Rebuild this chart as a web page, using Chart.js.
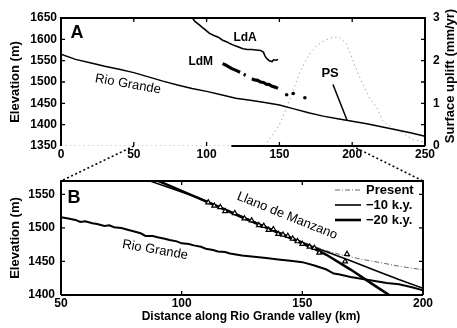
<!DOCTYPE html>
<html><head><meta charset="utf-8">
<script src="https://cdn.jsdelivr.net/npm/chart.js@4.4.1/dist/chart.umd.min.js"></script>
<style>
html,body{margin:0;padding:0;background:#fff;}
#wrap{position:relative;width:457px;height:328px;}
#wrap canvas{position:absolute;left:0;top:0;}
</style></head><body>
<div id="wrap"><canvas id="cA" width="457" height="328"></canvas><canvas id="cB" width="457" height="328"></canvas></div>
<script>
const FONT = "'Liberation Sans', Arial, Helvetica, sans-serif";

// ---------- Panel A data ----------
const riverAKm   = [0,10,20,30,40,50,60,70,80,90,100,110,120,130,140,150,160,170,180,190,200,210,220,230,240,250];
const riverAElev = [1565,1553,1545,1537,1530,1522,1512,1502,1493,1485,1478,1470,1462,1457,1452,1446,1437,1428,1420,1414,1408,1402,1395,1388,1381,1373];
const ldaKm   = [90,92,95,97,100,102,105,108,111,114,116,118,121,125,128,131,134,137,139,140,141,143,145,146,148,149];
const ldaElev = [1651,1642,1634,1628,1620,1614,1609,1605,1598,1594,1590,1587,1583,1578,1576,1576,1575,1574,1570,1562,1556,1550,1548,1552,1551,1553];
const ldmAKm   = [111,113,115,117,119,121,123,124,125.5,126.8,128,131,133,135,137,139,141,143,145,147,149];
const ldmAElev = [1543,1540,1536,1532,1529,1526,1523,null,1518,1516,null,1507,1505,1504,1500,1499,1495,1494,1490,1488,1485];
const ldmDotsKm   = [155,159.5,167.5];
const ldmDotsElev = [1470,1473,1463];
const psKm     = [0,20,40,60,80,100,120,140,145,150,155,160,164,168,172,176,181,186,191,196,200,204,208,212,217,221,228,235,241,246,250];
const psUplift = [0,0,0,0,0,0,0,0.02,0.25,0.5,0.9,1.35,1.73,2.0,2.22,2.36,2.47,2.54,2.56,2.4,2.05,1.7,1.4,1.12,0.9,0.58,0.42,0.3,0.16,0.12,0.08];
const psPointerKm   = [186.8,196.4];
const psPointerElev = [1494,1411];
const xTicksA = [0,50,100,150,200,250];
const yTicksA = [1350,1400,1450,1500,1550,1600,1650];
const upliftTicks = [0,1,2,3];
const upliftMinorTicks = [0,0.5,1,1.5,2,2.5,3];

// ---------- Panel B data ----------
const riverBKm   = [50,53,56,58,60,63,65,68,70,72,75,78,80,83,85,88,90,93,95,98,100,103,105,108,110,113,115,118,120,125,130,135,140,145,150,155,160,163,165,170,175,180,185,190,195,200];
const riverBElev = [1516,1514,1512,1509,1510,1507,1506,1503,1504,1501,1500,1497,1495,1492,1488,1488,1486,1484,1482,1480,1477,1476,1474,1472,1469,1467,1465,1464,1462,1459,1457,1455,1453,1451,1449,1444,1438,1432,1431,1427,1424,1421,1418,1416,1412,1407];
const presentKm   = [106,115,125,135,145,153,160,166,175,182,190,200];
const presentElev = [1546,1532,1517,1502,1487,1475,1466,1460,1453,1448.5,1443,1437.5];
const ky10Km   = [86,106,115,125,135,145,155,160,170,180,190,200];
const ky10Elev = [1571,1546,1532.5,1517,1501.5,1486,1471,1464.5,1451,1437,1423,1410];
const ky20Km   = [90,106,115,125,135,145,155,160,170,180,186,192];
const ky20Elev = [1570.5,1546,1532,1516,1500.5,1485,1469,1460,1438,1414,1400,1385];
const ldmBKm   = [111,113.5,116,118,122,126,129,132,134,136,138,140,142,144,146,148,150,153,155,157,167.7,168.5];
const ldmBElev = [1538,1533,1531,1525,1522,1514,1511,1504,1503,1497,1498,1491,1490,1488,1484,1480,1476,1472,1470,1463,1450,1461];
const xTicksB = [50,100,150,200];
const yTicksB = [1400,1450,1500,1550];
const legendLabels = ['Present','\u221210 k.y.','\u221220 k.y.'];

const pts = (xs, ys) => xs.map((x,i) => ({x, y: ys[i]}));
const tickFont = {family: FONT, size: 12, weight: 'bold'};

function fixedTicks(arr){ return s => { s.ticks = arr.map(v => ({value: v})); }; }

// ---------- plugins ----------
const framePlugin = {
  id: 'frame',
  afterDatasetsDraw(chart, args, o){
    const {ctx, chartArea:{left,right,top,bottom}, scales} = chart;
    ctx.save();
    ctx.strokeStyle = '#000'; ctx.lineWidth = 2; ctx.setLineDash([]);
    ctx.beginPath();
    ctx.moveTo(left, bottom); ctx.lineTo(left, top); ctx.lineTo(right, top); ctx.lineTo(right, bottom);
    const bx = o.bottomFrom != null ? scales.x.getPixelForValue(o.bottomFrom) : left;
    ctx.moveTo(bx, bottom); ctx.lineTo(right, bottom);
    ctx.stroke();
    ctx.lineWidth = 1.3;
    const L = 4;
    ctx.beginPath();
    o.xTicks.forEach(v => {
      if (v <= scales.x.min || v >= scales.x.max) return;
      const px = scales.x.getPixelForValue(v);
      ctx.moveTo(px, top); ctx.lineTo(px, top + L);
      ctx.moveTo(px, bottom); ctx.lineTo(px, bottom - L);
    });
    const ys = scales[o.leftScale];
    o.leftTicks.forEach(v => {
      if (v <= ys.min || v >= ys.max) return;
      const py = ys.getPixelForValue(v);
      ctx.moveTo(left, py); ctx.lineTo(left + L, py);
    });
    const rs = scales[o.rightScale];
    o.rightTicks.forEach(v => {
      if (v <= rs.min || v >= rs.max) return;
      const py = rs.getPixelForValue(v);
      ctx.moveTo(right, py); ctx.lineTo(right - L, py);
    });
    ctx.stroke();
    ctx.restore();
  }
};

const textPlugin = {
  id: 'texts',
  afterDatasetsDraw(chart, args, o){
    const {ctx, scales} = chart;
    ctx.save();
    ctx.fillStyle = '#000';
    (o.items || []).forEach(it => {
      const x = scales[it.xs || 'x'].getPixelForValue(it.x);
      const y = scales[it.ys || 'y'].getPixelForValue(it.y);
      ctx.save();
      ctx.translate(x, y);
      ctx.rotate((it.rot || 0) * Math.PI / 180);
      ctx.font = (it.weight || 'bold') + ' ' + it.size + 'px ' + FONT;
      ctx.textAlign = 'center'; ctx.textBaseline = 'middle';
      ctx.fillText(it.text, 0, 0);
      ctx.restore();
    });
    (o.titles || []).forEach(t => {
      const ca = chart.chartArea;
      const x = t.fromRight ? ca.right + t.dx : (ca.left + ca.right) / 2 + t.dx;
      const y = t.fromBottom ? ca.bottom + t.dy : (ca.top + ca.bottom) / 2 + t.dy;
      ctx.save();
      ctx.translate(x, y);
      ctx.rotate((t.rot || 0) * Math.PI / 180);
      ctx.font = 'bold ' + t.size + 'px ' + FONT;
      ctx.textAlign = 'center'; ctx.textBaseline = 'middle';
      ctx.fillText(t.text, 0, 0);
      ctx.restore();
    });
    ctx.restore();
  }
};

const legendPlugin = {
  id: 'miniLegend',
  afterDatasetsDraw(chart, args, o){
    if (!o.items) return;
    const {ctx, chartArea:{right, top}} = chart;
    ctx.save();
    o.items.forEach((it, i) => {
      const y = top + 9 + i * 15;
      ctx.beginPath();
      ctx.strokeStyle = it.color; ctx.lineWidth = it.width; ctx.setLineDash(it.dash || []);
      ctx.moveTo(right - 88, y); ctx.lineTo(right - 62, y); ctx.stroke();
      ctx.setLineDash([]);
      ctx.fillStyle = '#000';
      ctx.font = 'bold 13px ' + FONT;
      ctx.textAlign = 'left'; ctx.textBaseline = 'middle';
      ctx.fillText(it.text, right - 57, y);
    });
    ctx.restore();
  }
};

const connectorPlugin = {
  id: 'connector',
  afterDraw(chart){
    const a = window.chartA; if (!a) return;
    const {ctx, chartArea:{left,right,top}, scales} = chart;
    const x1 = a.scales.x.getPixelForValue(scales.x.min);
    const x2 = a.scales.x.getPixelForValue(scales.x.max);
    const yA = a.chartArea.bottom;
    ctx.save();
    ctx.strokeStyle = '#000'; ctx.lineWidth = 1.6; ctx.setLineDash([2,2.5]);
    ctx.beginPath();
    ctx.moveTo(x1, yA); ctx.lineTo(left, top);
    ctx.moveTo(x2, yA); ctx.lineTo(right, top);
    ctx.stroke();
    ctx.restore();
  }
};

const noGrid = {display: false, drawTicks: false, tickLength: 0};
const noBorder = {display: false};
const lineDs = (data, extra) => Object.assign({data, borderColor: '#000', backgroundColor: '#000', borderWidth: 1.6, pointRadius: 0, tension: 0, fill: false}, extra || {});

// ---------- Chart A ----------
window.chartA = new Chart(document.getElementById('cA'), {
  type: 'line',
  data: { datasets: [
    lineDs(pts(psPointerKm, psPointerElev), {yAxisID: 'y', borderWidth: 1.5}),
    lineDs(pts(ldmDotsKm, ldmDotsElev), {yAxisID: 'y', showLine: false, pointRadius: 1.8, pointBorderWidth: 0}),
    lineDs(pts(ldmAKm, ldmAElev), {yAxisID: 'y', borderWidth: 3.2, spanGaps: false}),
    lineDs(pts(ldaKm, ldaElev), {yAxisID: 'y', borderWidth: 1.6}),
    lineDs(pts(riverAKm, riverAElev), {yAxisID: 'y', borderWidth: 1.5}),
    lineDs(pts(psKm, psUplift), {yAxisID: 'y2', borderColor: '#a8a8a8', borderWidth: 1, borderDash: [1.5,3]})
  ]},
  options: {
    responsive: false, animation: false, devicePixelRatio: 1,
    layout: {padding: {top: 18, left: 0, right: 0, bottom: 0}},
    plugins: {
      legend: {display: false}, tooltip: {enabled: false},
      frame: {xTicks: xTicksA, leftScale: 'y', leftTicks: yTicksA, rightScale: 'y2', rightTicks: upliftMinorTicks, bottomFrom: 117},
      texts: {
        items: [
          {text: 'A', x: 11, y: 1615, size: 18},
          {text: 'LdA', x: 126.4, y: 1605, size: 12},
          {text: 'LdM', x: 96, y: 1547, size: 12},
          {text: 'PS', x: 184.8, y: 1521, size: 13},
          {text: 'Rio Grande', x: 46, y: 1495, size: 13, weight: 'normal', rot: 10}
        ],
        titles: [
          {text: 'Surface uplift (mm/yr)', fromRight: true, dx: 25, dy: -6, rot: -90, size: 13}
        ]
      }
    },
    scales: {
      x: {type: 'linear', position: 'bottom', min: 0, max: 250,
          afterBuildTicks: fixedTicks(xTicksA),
          ticks: {font: tickFont, color: '#000', padding: 1, autoSkip: false, maxRotation: 0, callback: v => String(v)},
          grid: noGrid, border: noBorder,
          afterFit: s => { s.height = 182; }},
      y: {type: 'linear', position: 'left', min: 1350, max: 1650,
          afterBuildTicks: fixedTicks(yTicksA),
          ticks: {font: tickFont, color: '#000', padding: 4, autoSkip: false, callback: v => String(v)},
          grid: noGrid, border: noBorder,
          title: {display: true, text: 'Elevation (m)', color: '#000', font: {family: FONT, size: 13, weight: 'bold'}, padding: {top: 8, bottom: 0}},
          afterFit: s => { s.width = 61; }},
      y2: {type: 'linear', position: 'right', min: 0, max: 3,
          afterBuildTicks: fixedTicks(upliftTicks),
          ticks: {font: tickFont, color: '#000', padding: 8, autoSkip: false, callback: v => String(v)},
          grid: noGrid, border: noBorder,
          afterFit: s => { s.width = 32; }}
    }
  },
  plugins: [framePlugin, textPlugin]
});

// ---------- Chart B ----------
new Chart(document.getElementById('cB'), {
  type: 'line',
  data: { datasets: [
    lineDs(pts(ldmBKm, ldmBElev), {showLine: false, pointStyle: 'triangle', pointRadius: 2.8, pointBorderWidth: 1.2, pointBackgroundColor: '#fff', pointBorderColor: '#000'}),
    lineDs(pts(ky20Km, ky20Elev), {borderWidth: 2.6}),
    lineDs(pts(ky10Km, ky10Elev), {borderWidth: 1.6}),
    lineDs(pts(presentKm, presentElev), {borderColor: '#666', borderWidth: 1, borderDash: [5,2,1,2]}),
    lineDs(pts(riverBKm, riverBElev), {borderWidth: 2})
  ]},
  options: {
    responsive: false, animation: false, devicePixelRatio: 1,
    layout: {padding: {top: 181, left: 0, right: 34, bottom: 0}},
    plugins: {
      legend: {display: false}, tooltip: {enabled: false},
      frame: {xTicks: xTicksB, leftScale: 'y', leftTicks: yTicksB, rightScale: 'y', rightTicks: yTicksB},
      miniLegend: {items: [
        {text: legendLabels[0], color: '#666', width: 1, dash: [5,2,1,2]},
        {text: legendLabels[1], color: '#000', width: 1.6},
        {text: legendLabels[2], color: '#000', width: 2.6}
      ]},
      texts: {
        items: [
          {text: 'B', x: 55.4, y: 1545, size: 18},
          {text: 'Rio Grande', x: 89, y: 1467, size: 13, weight: 'normal', rot: 10},
          {text: 'Llano de Manzano', x: 143.7, y: 1518, size: 13, weight: 'normal', rot: 22}
        ],
        titles: [
          {text: 'Distance along Rio Grande valley (km)', fromBottom: true, dx: 9, dy: 22, size: 12}
        ]
      }
    },
    scales: {
      x: {type: 'linear', position: 'bottom', min: 50, max: 200,
          afterBuildTicks: fixedTicks(xTicksB),
          ticks: {font: tickFont, color: '#000', padding: 1, autoSkip: false, maxRotation: 0, callback: v => String(v)},
          grid: noGrid, border: noBorder,
          afterFit: s => { s.height = 33; }},
      y: {type: 'linear', position: 'left', min: 1400, max: 1570,
          afterBuildTicks: fixedTicks(yTicksB),
          ticks: {font: tickFont, color: '#000', padding: 6, autoSkip: false, callback: v => String(v)},
          grid: noGrid, border: noBorder,
          title: {display: true, text: 'Elevation (m)', color: '#000', font: {family: FONT, size: 13, weight: 'bold'}, padding: {top: 8, bottom: 0}},
          afterFit: s => { s.width = 61; }}
    }
  },
  plugins: [framePlugin, textPlugin, legendPlugin, connectorPlugin]
});
</script>
</body></html>
